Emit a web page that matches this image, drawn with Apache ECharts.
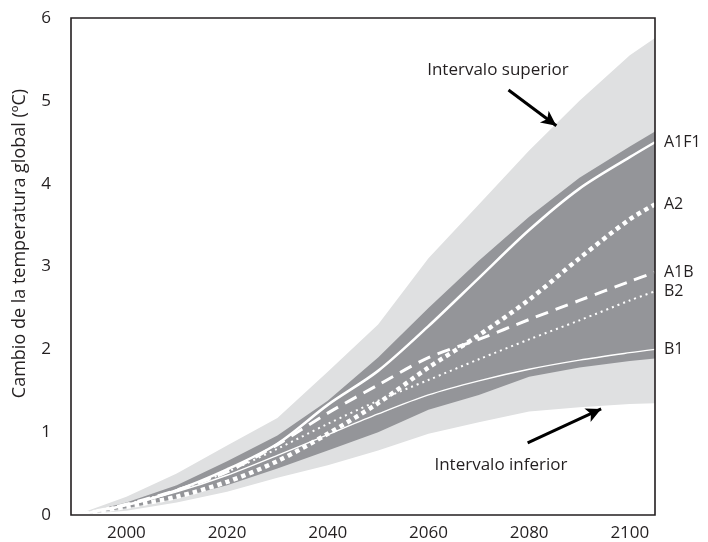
<!DOCTYPE html>
<html>
<head>
<meta charset="utf-8">
<script src="https://cdn.jsdelivr.net/npm/echarts@6/dist/echarts.min.js"></script>
<style>
  html, body { margin: 0; background: #fff; }
  #main { width: 708px; height: 542px; }
</style>
</head>
<body>
<div id="main"></div>
<script>
// años del eje x
const years = [1990, 2000, 2010, 2020, 2030, 2040, 2050, 2060, 2070, 2080, 2090, 2100, 2105];
const xLabels = [2000, 2020, 2040, 2060, 2080, 2100];

// bandas
const upperLimit = [0, 0.22, 0.5, 0.84, 1.17, 1.73, 2.3, 3.1, 3.75, 4.4, 5.0, 5.55, 5.76];
const upperBand = [0, 0.15, 0.36, 0.65, 0.96, 1.38, 1.9, 2.5, 3.07, 3.6, 4.07, 4.45, 4.63];
const lowerBand = [0, 0.08, 0.2, 0.36, 0.56, 0.78, 1.0, 1.27, 1.45, 1.67, 1.78, 1.86, 1.89];
const lowerLimit = [0, 0.05, 0.15, 0.28, 0.45, 0.6, 0.78, 0.98, 1.12, 1.25, 1.3, 1.34, 1.35];

// escenarios
const a1f1 = [0, 0.12, 0.3, 0.55, 0.86, 1.33, 1.74, 2.28, 2.86, 3.44, 3.94, 4.32, 4.5];
const a2 = [0, 0.1, 0.22, 0.4, 0.65, 0.98, 1.35, 1.78, 2.17, 2.6, 3.1, 3.57, 3.75];
const a1b = [0, 0.13, 0.3, 0.52, 0.85, 1.23, 1.57, 1.9, 2.12, 2.36, 2.59, 2.82, 2.93];
const b2 = [0, 0.13, 0.3, 0.52, 0.8, 1.1, 1.38, 1.63, 1.88, 2.12, 2.35, 2.59, 2.7];
const b1 = [0, 0.12, 0.28, 0.48, 0.72, 0.97, 1.22, 1.45, 1.62, 1.76, 1.87, 1.96, 2.0];

// anotaciones (año, valor)
const arrowSup = [[2075.9, 5.13], [2085.4, 4.7]];
const arrowInf = [[2079.7, 0.87], [2094.3, 1.28]];
const textSup = [2073.8, 5.37];
const textInf = [2074.4, 0.6];

const ink = '#231f20';
const font = 'Open Sans';
const pair = (arr) => years.map((y, i) => [y, arr[i]]);

function band(data, color) {
  return {
    type: 'line',
    data: pair(data),
    symbol: 'none',
    silent: true,
    lineStyle: { width: 0 },
    areaStyle: { color: color, opacity: 1 },
    z: 1
  };
}

function scenario(name, data, width, dash) {
  return {
    name: name,
    type: 'line',
    data: pair(data),
    symbol: 'none',
    smooth: 0.3,
    lineStyle: { color: '#fff', width: width, type: dash },
    endLabel: {
      show: true,
      formatter: '{a}',
      color: ink,
      fontFamily: font,
      fontSize: 16,
      distance: 9
    },
    z: 3
  };
}

const chart = echarts.init(document.getElementById('main'));
chart.setOption({
  animation: false,
  grid: {
    left: 71, right: 53, top: 18, bottom: 24,
    show: true, z: 10,
    backgroundColor: 'transparent',
    borderColor: ink, borderWidth: 1.6
  },
  xAxis: {
    type: 'value',
    min: 1989, max: 2105,
    axisLine: { show: false },
    axisTick: { show: false },
    splitLine: { show: false },
    axisLabel: {
      customValues: xLabels,
      formatter: (v) => String(v),
      color: ink, fontFamily: font, fontSize: 17, margin: 10
    }
  },
  yAxis: {
    type: 'value',
    min: 0, max: 6, interval: 1,
    name: 'Cambio de la temperatura global (ºC)',
    nameLocation: 'middle',
    nameGap: 42,
    nameTextStyle: { color: ink, fontFamily: font, fontSize: 18, padding: [0, 0, 0, 46] },
    axisLine: { show: false },
    axisTick: { show: false },
    splitLine: { show: false },
    axisLabel: { color: ink, fontFamily: font, fontSize: 17, margin: 20 }
  },
  series: [
    band(upperLimit, '#dfe0e1'),
    band(upperBand, '#949599'),
    band(lowerBand, '#dfe0e1'),
    band(lowerLimit, '#ffffff'),
    scenario('A1F1', a1f1, 2.6, 'solid'),
    scenario('A2', a2, 4.5, [4.5, 4]),
    scenario('A1B', a1b, 3, [13, 8]),
    scenario('B2', b2, 2, [2, 4]),
    scenario('B1', b1, 1.4, 'solid'),
    {
      type: 'line',
      data: [],
      silent: true,
      z: 6,
      markLine: {
        silent: true,
        animation: false,
        symbol: ['none', 'arrow'],
        symbolSize: [11, 15],
        itemStyle: { color: '#000' },
        lineStyle: { color: '#000', width: 3, type: 'solid' },
        label: { show: false },
        data: [
          [{ coord: arrowSup[0] }, { coord: arrowSup[1] }],
          [{ coord: arrowInf[0] }, { coord: arrowInf[1] }]
        ]
      },
      markPoint: {
        silent: true,
        symbol: 'circle',
        symbolSize: 1,
        itemStyle: { color: 'transparent' },
        label: {
          show: true,
          position: 'inside',
          formatter: '{b}',
          color: ink,
          fontFamily: font,
          fontSize: 17
        },
        data: [
          { name: 'Intervalo superior', coord: textSup },
          { name: 'Intervalo inferior', coord: textInf }
        ]
      }
    }
  ]
});
</script>
</body>
</html>
